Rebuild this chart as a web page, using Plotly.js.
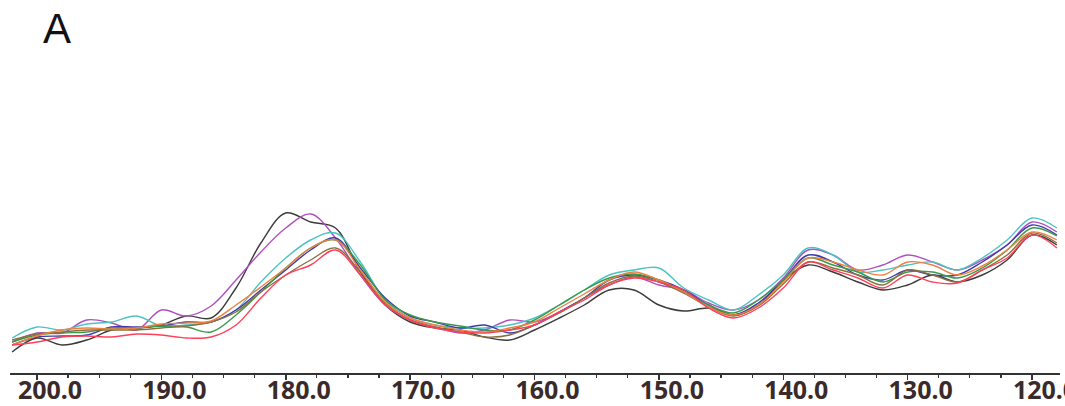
<!DOCTYPE html>
<html>
<head>
<meta charset="utf-8">
<script src="https://cdn.plot.ly/plotly-3.0.1.min.js"></script>
<style>html,body{margin:0;padding:0;background:#fff;}#chart{width:1065px;height:406px;}</style>
</head>
<body>
<div id="chart"></div>
<script>
// Chemical shift (ppm), reversed axis
const shift = [202,200,198,196,194,192,190,188,186,184,182,180,178,176,174,172,170,168,166,164,162,160,158,156,154,152,150,148,146,144,142,140,138,136,134,132,130,128,126,124,122,120,118];
const tickValues = [200,190,180,170,160,150,140,130,120];

// Spectra intensities (arbitrary units)
const sBlack   = [21,35,28,33,43,45,48,57,55,85,130,160,151,145,101,68,51,45,43,36,33,43,55,68,83,83,68,62,65,58,68,93,108,101,91,83,88,98,91,98,113,138,128];
const sMagenta = [31,40,40,53,50,43,63,57,67,93,121,145,159,135,98,68,53,46,40,43,53,51,61,75,88,96,88,83,70,63,73,95,123,118,103,108,118,111,103,113,128,151,141];
const sCyan    = [35,46,43,49,51,57,47,48,51,63,91,115,133,140,111,73,55,48,45,45,48,55,68,83,98,103,105,85,73,63,78,98,125,118,101,103,108,111,103,115,133,155,145];
const sBlue    = [28,36,37,38,46,46,47,51,51,63,83,103,123,135,105,75,57,51,45,48,40,48,61,75,93,98,93,83,68,58,70,93,118,111,98,93,103,98,98,111,128,148,138];
const sGreen   = [31,38,40,41,45,45,47,46,41,58,81,105,125,133,108,73,58,51,47,43,43,53,68,83,95,99,93,81,68,60,73,93,115,108,101,91,101,101,95,105,123,145,137];
const sOrange  = [28,37,43,45,44,45,49,50,52,68,86,105,125,133,103,71,55,48,43,41,45,51,65,79,93,101,93,81,66,58,68,91,115,111,103,98,111,108,98,107,123,141,133];
const sRed     = [28,31,36,37,36,39,38,35,36,48,75,98,108,123,98,68,53,45,41,40,43,48,61,73,88,95,91,83,65,55,65,85,111,103,95,85,98,91,90,103,115,138,125];
const sOlive   = [33,39,41,43,43,43,45,47,51,61,81,98,113,125,101,70,53,46,41,36,38,48,60,75,90,97,91,80,66,57,67,89,111,105,98,88,103,98,91,103,118,140,130];

const names  = ['S1','S2','S3','S4','S5','S6','S7','S8'];
const series = [sBlack,sMagenta,sCyan,sBlue,sGreen,sOlive,sOrange,sRed];
const colors = ['#3b3b3b','#b04fc0','#4cc3c3','#3c3ca8','#3a9a4a','#8a7040','#f08040','#ff3f5a'];

const traces = series.map((ys,i)=>({
  x: shift, y: ys, name: names[i], type:'scatter', mode:'lines',
  line:{color:colors[i], width:1.4, shape:'spline', smoothing:1},
  hoverinfo:'skip', showlegend:false
}));

const layout = {
  width:1065, height:406,
  margin:{l:10, r:5, t:10, b:33, pad:0},
  paper_bgcolor:'#ffffff', plot_bgcolor:'#ffffff',
  title:{text:'A', x:57/1065, xanchor:'center', xref:'container', y:1-28/406, yanchor:'middle', yref:'container',
         font:{family:'Liberation Sans, Arial, sans-serif', size:42, color:'#111'}},
  xaxis:{
    range:[202.17,117.75], autorange:false,
    tickvals:tickValues, ticktext:tickValues.map(v=>v.toFixed(1)),
    ticks:'outside', ticklen:5, tickwidth:1.5, tickcolor:'#333',
    ticklabelstandoff:-11, ticklabelshift:-13, ticklabeloverflow:'allow',
    minor:{dtick:2.5, tick0:0, ticks:'outside', ticklen:3, tickwidth:1.2, tickcolor:'#333'},
    showline:true, linecolor:'#333', linewidth:2,
    showgrid:false, zeroline:false,
    tickfont:{family:'Noto Sans, Open Sans, sans-serif', size:25, color:'#3a2a2a', weight:'bold'}
  },
  yaxis:{range:[0,363], autorange:false, visible:false, showgrid:false, zeroline:false},
  showlegend:false
};

Plotly.newPlot('chart', traces, layout, {staticPlot:true, displayModeBar:false});
</script>
</body>
</html>
